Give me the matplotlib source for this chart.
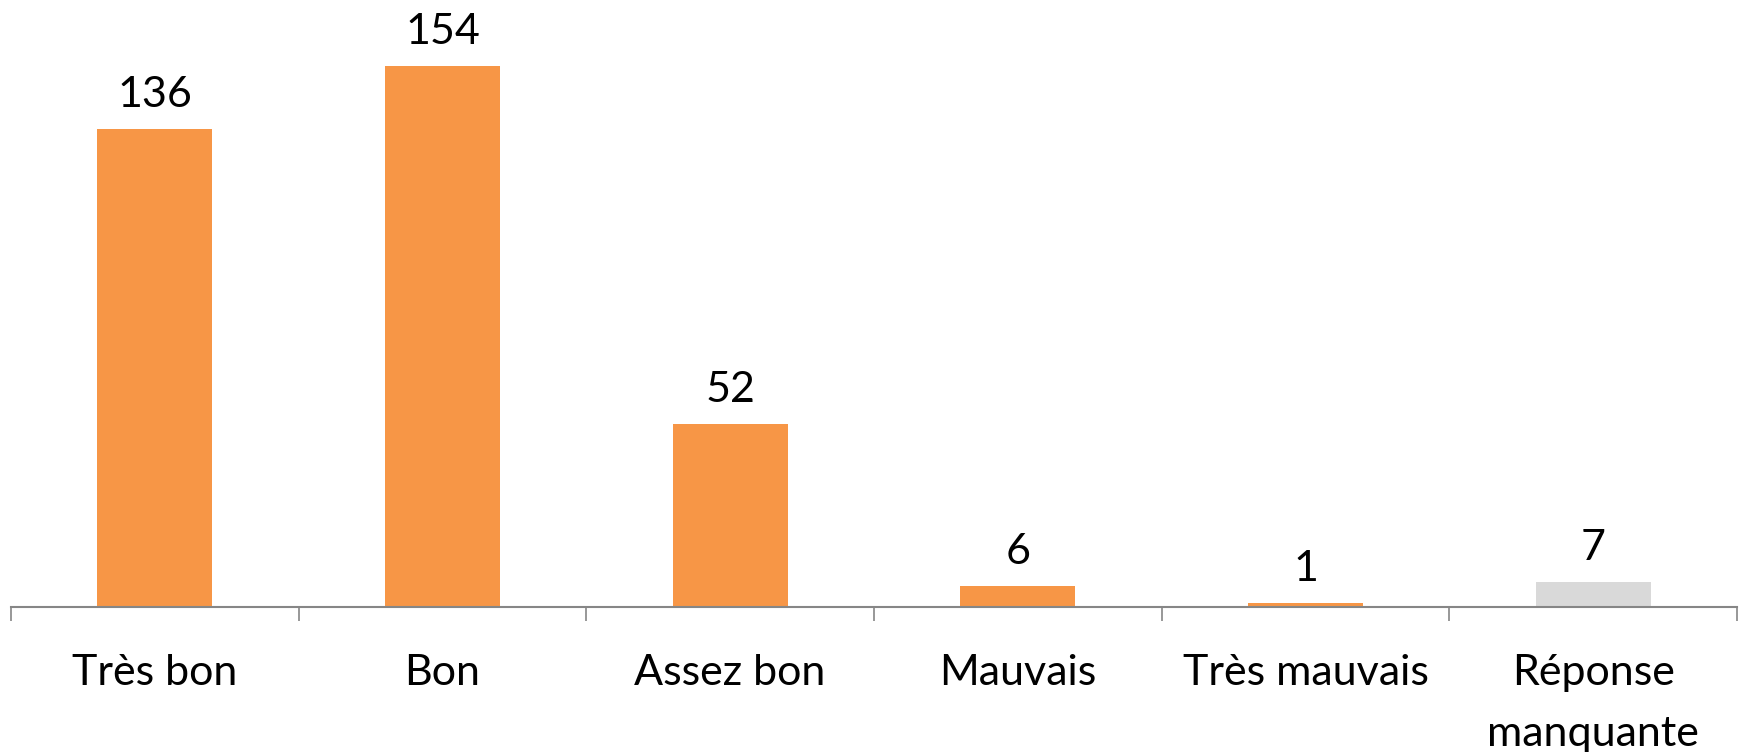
import numpy as np
import matplotlib
matplotlib.use("Agg")
import matplotlib.pyplot as plt

# donnees du graphique
categories = ["Très bon", "Bon", "Assez bon", "Mauvais", "Très mauvais", "Réponse\nmanquante"]
valeurs = [136, 154, 52, 6, 1, 7]
couleurs = ["#F79646", "#F79646", "#F79646", "#F79646", "#F79646", "#D9D9D9"]

plt.rcParams['font.family'] = ['Lato', 'DejaVu Sans']

fig = plt.figure(figsize=(17.43, 7.52), dpi=100)
ax = fig.add_axes([11 / 1743, 1 - 607 / 752, (1737 - 11) / 1743, 607 / 752])

x = np.arange(len(categories))
barres = ax.bar(x, valeurs, width=0.4, color=couleurs)
ax.bar_label(barres, labels=[str(v) for v in valeurs], padding=11, fontsize=31)

ax.set_xlim(-0.5, len(categories) - 0.5)
ax.set_ylim(0, 172.8)

# graduations aux limites des categories
ax.set_xticks(x)
ax.set_xticklabels(categories, fontsize=31, linespacing=1.72)
ax.set_xticks(np.arange(-0.5, len(categories)), minor=True)
ax.tick_params(axis='x', which='major', length=0, pad=34)
ax.tick_params(axis='x', which='minor', length=10, width=1.2, color="#868686", direction='out')
ax.set_yticks([])

for s in ['top', 'left', 'right']:
    ax.spines[s].set_visible(False)
ax.spines['bottom'].set_color("#868686")
ax.spines['bottom'].set_linewidth(1.5)

fig.savefig("out.png", dpi=100)
